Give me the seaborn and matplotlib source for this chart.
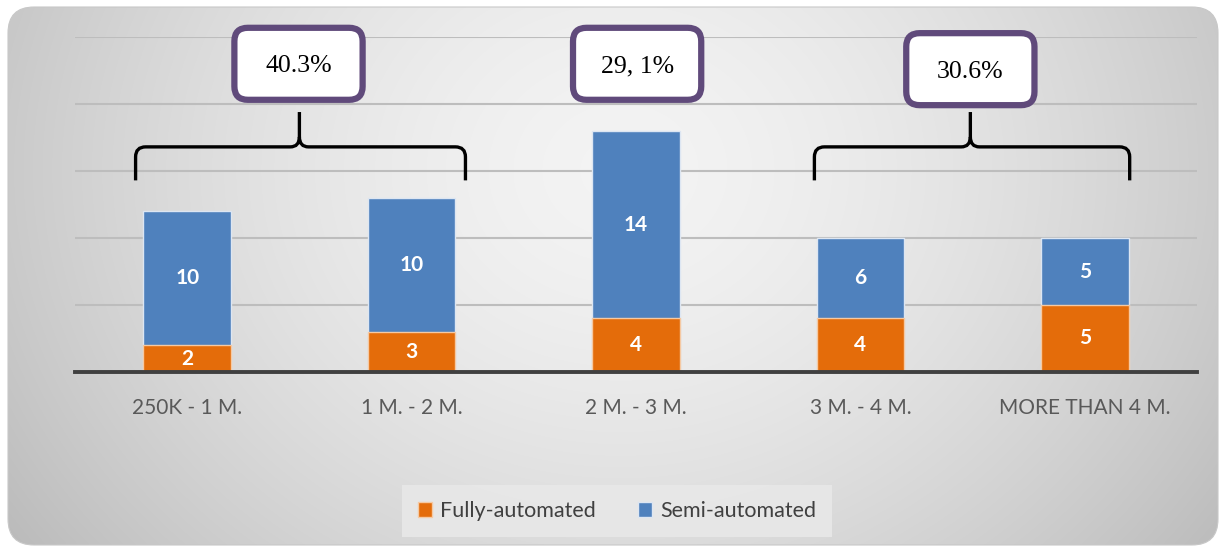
import numpy as np
import pandas as pd
import matplotlib
matplotlib.use('Agg')
import matplotlib.pyplot as plt
import seaborn as sns
from matplotlib.patches import FancyBboxPatch, PathPatch, Patch
from matplotlib.path import Path

categories = ['250K - 1 M.', '1 M. - 2 M.', '2 M. - 3 M.', '3 M. - 4 M.', 'MORE THAN 4 M.']
fully = [2, 3, 4, 4, 5]
semi = [10, 10, 14, 6, 5]
group_labels = ['40.3%', '29, 1%', '30.6%']

orange = '#E46C0A'
blue = '#4F81BD'
purple = '#604A7B'

df = pd.DataFrame({'category': categories, 'fully': fully, 'semi': semi})
df['total'] = df['fully'] + df['semi']

sns.set_style('white')
plt.rcParams['font.family'] = ['Lato', 'DejaVu Sans']

fig = plt.figure(figsize=(12.2, 5.46), dpi=100)

# gradient background with rounded corners
bg = fig.add_axes([0, 0, 1, 1])
bg.set_xlim(0, 1220)
bg.set_ylim(546, 0)
bg.axis('off')
yy, xx = np.mgrid[0:546, 0:1220]
dist = np.sqrt(((xx - 620) / 700.0) ** 2 + ((yy - 170) / 600.0) ** 2)
shade = 0.955 - 0.2 * dist ** 1.6
img = bg.imshow(np.dstack([shade, shade, shade]).clip(0, 1), extent=[0, 1220, 546, 0], zorder=0)
panel = FancyBboxPatch((8, 7), 1210, 538, boxstyle='round,pad=0,rounding_size=26',
                       fc='none', ec='#C8C8C8', lw=0.8, zorder=1)
bg.add_patch(panel)
img.set_clip_path(panel)

ax = fig.add_axes([75 / 1220, 1 - 372 / 546, 1122 / 1220, 335 / 546])
ax.patch.set_alpha(0)

sns.barplot(data=df, x='category', y='total', color=blue, width=0.39, ax=ax,
            edgecolor='#DDE6F2', linewidth=1, saturation=1, zorder=3)
sns.barplot(data=df, x='category', y='fully', color=orange, width=0.39, ax=ax,
            edgecolor='#F5C9A3', linewidth=1, saturation=1, zorder=4)

ax.set_ylim(0, 25)
ax.set_xlim(-0.5, 4.5)
ax.set_yticks([5, 10, 15, 20, 25])
ax.set_yticklabels([])
ax.tick_params(axis='y', length=0)
ax.yaxis.grid(True, color='#BDBDBD', lw=1.5, zorder=0)
ax.set_axisbelow(True)
for s in ['top', 'right', 'left']:
    ax.spines[s].set_visible(False)
ax.spines['bottom'].set_color('#404040')
ax.spines['bottom'].set_linewidth(2.8)
ax.spines['bottom'].set_zorder(6)
ax.set_xlabel('')
ax.set_ylabel('')
ax.tick_params(axis='x', length=0, pad=19, labelsize=15, labelcolor='#595959')

for i, (f, s) in enumerate(zip(fully, semi)):
    ax.text(i, f / 2, str(f), ha='center', va='center', color='white',
            fontsize=15, fontweight='bold', zorder=7)
    ax.text(i, f + s / 2, str(s), ha='center', va='center', color='white',
            fontsize=15, fontweight='bold', zorder=7)


def brace(x0, x1, xm, y0, y1, ytip):
    rx, ry = 0.045, 0.75
    verts = [(x0, y0), (x0, y1 - ry), (x0, y1), (x0 + rx, y1), (xm - rx * 0.9, y1),
             (xm, y1), (xm, y1 + ry), (xm, ytip),
             (xm, y1 + ry), (xm, y1), (xm + rx * 0.9, y1), (x1 - rx, y1),
             (x1, y1), (x1, y1 - ry), (x1, y0)]
    codes = [Path.MOVETO, Path.LINETO, Path.CURVE3, Path.CURVE3, Path.LINETO,
             Path.CURVE3, Path.CURVE3, Path.LINETO,
             Path.MOVETO, Path.CURVE3, Path.CURVE3, Path.LINETO,
             Path.CURVE3, Path.CURVE3, Path.LINETO]
    ax.add_patch(PathPatch(Path(verts, codes), fc='none', ec='black', lw=2.4,
                           clip_on=False, zorder=8, capstyle='butt'))


brace(-0.23, 1.24, 0.5, 14.3, 16.8, 19.4)
brace(2.795, 4.2, 3.49, 14.3, 16.8, 19.4)

# labelled boxes
box_x = [0.496, 2.005, 3.49]
box_y = [23.0, 23.0, 22.6]
bw, bh = 128 / 224, 72 / 13.4
aspect = (1 / 13.4) / (1 / 224)
for cx, cy, lab in zip(box_x, box_y, group_labels):
    p = FancyBboxPatch((cx - bw / 2, cy - bh / 2), bw, bh,
                       boxstyle='round,pad=0,rounding_size=0.06', mutation_aspect=aspect,
                       fc='white', ec=purple, lw=4.5, clip_on=False, zorder=9)
    ax.add_patch(p)
    ax.text(cx, cy, lab, ha='center', va='center_baseline', fontsize=18.5,
            family=['Liberation Serif', 'DejaVu Serif'], color='black', zorder=10, clip_on=False)

# legend
handles = [Patch(fc=orange, ec='#F5C9A3'), Patch(fc=blue, ec='#DDE6F2')]
leg = fig.legend(handles, ['Fully-automated', 'Semi-automated'], loc='center',
                 bbox_to_anchor=(617 / 1220, 1 - 511 / 546), ncol=2, frameon=True,
                 fontsize=15.5, handlelength=0.65, handleheight=0.65, handletextpad=0.35,
                 columnspacing=2.0, borderpad=0.75)
leg.get_frame().set_facecolor('#E8E8E8')
leg.get_frame().set_edgecolor('none')
leg.get_frame().set_boxstyle('square', pad=0.0)
leg.get_frame().set_alpha(0.9)
for t in leg.get_texts():
    t.set_color('#404040')

fig.savefig('out.png', dpi=100)
